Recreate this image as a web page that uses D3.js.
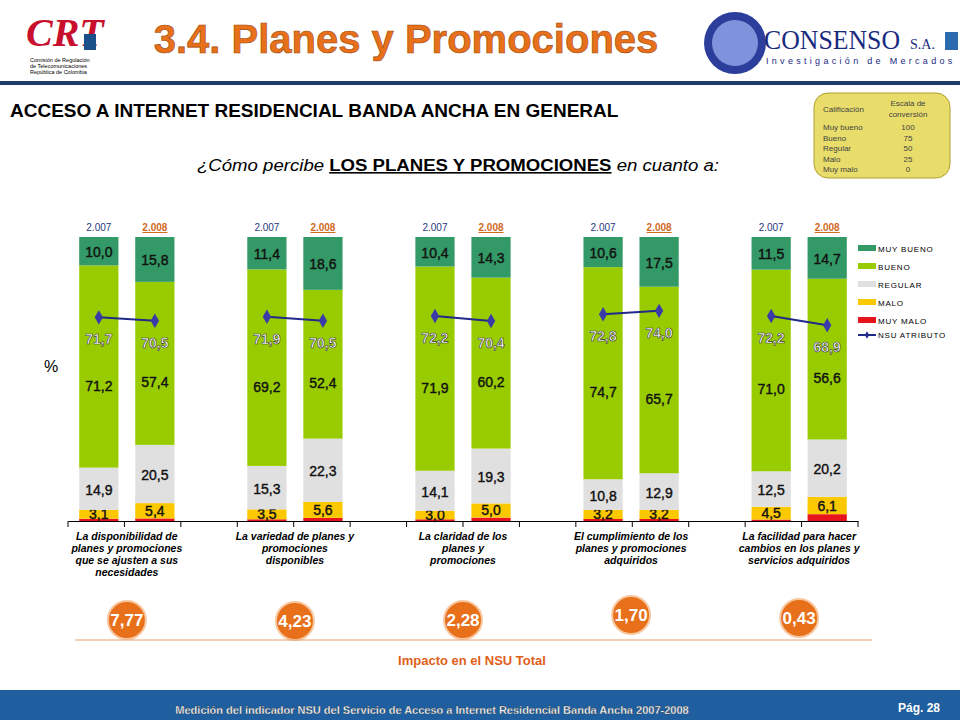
<!DOCTYPE html><html><head><meta charset="utf-8"><script src="https://cdn.jsdelivr.net/npm/d3@7"></script>
<style>body{margin:0;background:#fff}svg{font-family:Arial,"Liberation Sans",sans-serif}</style></head><body><svg id="c" width="960" height="720"></svg><script>
const slots=["a07","a08","g1","b07","b08","g2","c07","c08","g3","d07","d08","g4","e07","e08"];
const barKeys=["a07","a08","b07","b08","c07","c08","d07","d08","e07","e08"];
const muyMalo=[0.8,0.9,0.6,1.1,0.6,1.2,0.7,0.7,0.5,2.4];
const malo=[3.1,5.4,3.5,5.6,3.0,5.0,3.2,3.2,4.5,6.1];
const regular=[14.9,20.5,15.3,22.3,14.1,19.3,10.8,12.9,12.5,20.2];
const bueno=[71.2,57.4,69.2,52.4,71.9,60.2,74.7,65.7,71.0,56.6];
const muyBueno=[10.0,15.8,11.4,18.6,10.4,14.3,10.6,17.5,11.5,14.7];
const nsu=[71.7,70.5,71.9,70.5,72.2,70.4,72.8,74.0,72.2,68.9];
const years=["2.007","2.008"];
const groupLabels=[["La disponibilidad  de","planes y promociones","que se ajusten a sus","necesidades"],["La variedad de planes y","promociones","disponibles"],["La claridad de los","planes y","promociones"],["El cumplimiento de los","planes y promociones","adquiridos"],["La facilidad para hacer","cambios en los planes y","servicios adquiridos"]];
const impacts=["7,77","4,23","2,28","1,70","0,43"];
const scaleRows=[["Muy bueno","100"],["Bueno","75"],["Regular","50"],["Malo","25"],["Muy malo","0"]];
const series=[{n:"MUY MALO",v:muyMalo,c:"#e8141c"},{n:"MALO",v:malo,c:"#fcc800"},{n:"REGULAR",v:regular,c:"#e0e0e0"},{n:"BUENO",v:bueno,c:"#99cc00"},{n:"MUY BUENO",v:muyBueno,c:"#339966"}];
const svg=d3.select("#c");
const x=d3.scaleBand().domain(slots).range([68,858]).paddingInner(0.3).paddingOuter(0.2);
const y=d3.scaleLinear().domain([0,100]).range([521,237]);
const fmt=v=>v.toFixed(1).replace(".",",");
// header
svg.append("text").attr("x",26).attr("y",46).attr("font-size",40).attr("font-weight","bold").attr("font-style","italic").attr("fill","#c8102e").attr("font-family","Liberation Serif,serif").text("CRT");
svg.append("rect").attr("x",84).attr("y",34).attr("width",12).attr("height",16).attr("fill","#1a4f8a");
["Comisión de Regulación","de Telecomunicaciones","República de Colombia"].forEach((t,i)=>svg.append("text").attr("x",30).attr("y",62+i*6).attr("font-size",5.5).text(t));
svg.append("text").attr("x",406).attr("y",53).attr("text-anchor","middle").attr("font-size",40).attr("font-weight","bold").attr("fill","#e8701a").attr("stroke","#9a4a10").attr("stroke-width",0.6).text("3.4. Planes y Promociones");
svg.append("circle").attr("cx",735).attr("cy",43).attr("r",31).attr("fill","#2c3e9c");
svg.append("circle").attr("cx",735).attr("cy",43).attr("r",23).attr("fill","#7f93dd");
svg.append("text").attr("x",764).attr("y",49).attr("font-size",27).attr("textLength",136).attr("lengthAdjust","spacingAndGlyphs").attr("fill","#1a2a80").attr("font-family","Liberation Serif,serif").text("CONSENSO");
svg.append("text").attr("x",910).attr("y",49).attr("font-size",14).attr("fill","#1a2a80").attr("font-family","Liberation Serif,serif").text("S.A.");
svg.append("text").attr("x",766).attr("y",64).attr("font-size",9).attr("letter-spacing",3.3).attr("fill","#1a2a80").text("Investigación de Mercados");
svg.append("rect").attr("x",945).attr("y",32).attr("width",13).attr("height",18).attr("fill","#2c6cae");
svg.append("rect").attr("x",0).attr("y",81).attr("width",960).attr("height",4).attr("fill","#1f3a6b");
svg.append("text").attr("x",10).attr("y",117).attr("font-size",19).attr("font-weight","bold").text("ACCESO A INTERNET RESIDENCIAL BANDA ANCHA EN GENERAL");
const sub=svg.append("text").attr("x",458).attr("y",171).attr("text-anchor","middle").attr("font-size",16).attr("font-style","italic").attr("textLength",522).attr("lengthAdjust","spacingAndGlyphs");
sub.append("tspan").text("¿Cómo percibe ");sub.append("tspan").attr("font-weight","bold").attr("font-style","normal").attr("text-decoration","underline").text("LOS PLANES Y PROMOCIONES");sub.append("tspan").text(" en cuanto a:");
// scale box
svg.append("rect").attr("x",814).attr("y",93).attr("width",136).attr("height",85).attr("rx",14).attr("fill","#e8dc6a").attr("stroke","#b0a030");
svg.append("text").attr("x",823).attr("y",112).attr("font-size",8).attr("fill","#444").text("Calificación");
svg.append("text").attr("x",908).attr("y",106).attr("text-anchor","middle").attr("font-size",8).attr("fill","#444").text("Escala de");
svg.append("text").attr("x",908).attr("y",117).attr("text-anchor","middle").attr("font-size",8).attr("fill","#444").text("conversión");
scaleRows.forEach((r,i)=>{svg.append("text").attr("x",823).attr("y",130+i*10.5).attr("font-size",8).attr("fill","#444").text(r[0]);svg.append("text").attr("x",908).attr("y",130+i*10.5).attr("text-anchor","middle").attr("font-size",8).attr("fill","#444").text(r[1]);});
// bars
const bw=x.bandwidth();
barKeys.forEach((k,i)=>{
  let acc=0;
  series.forEach(s=>{
    const v=s.v[i];
    svg.append("rect").attr("x",x(k)).attr("width",bw).attr("y",y(acc+v)).attr("height",y(acc)-y(acc+v)).attr("fill",s.c);
    if(s.n!=="MUY MALO"){
      const cy=s.n==="BUENO"?y(acc+v*0.5)+24:(s.n==="MALO"?y(acc+v/2)+5:y(acc+v/2)+6);
      svg.append("text").attr("x",x(k)+bw/2).attr("y",cy).attr("text-anchor","middle").attr("font-size",14).attr("fill","#111").attr("stroke","#111").attr("stroke-width",0.4).text(fmt(v));
    }
    acc+=v;
  });
  svg.append("text").attr("x",x(k)+bw/2).attr("y",y(100)-6).attr("text-anchor","middle").attr("font-size",10).attr("font-weight",i%2?"bold":"normal").attr("fill",i%2?"#d2691e":"#1f3a80").attr("text-decoration",i%2?"underline":"none").text(years[i%2]);
});
// NSU lines
for(let g=0;g<5;g++){
  const pts=[0,1].map(j=>[x(barKeys[g*2+j])+bw/2,y(nsu[g*2+j])]);
  svg.append("path").attr("d",d3.line()(pts)).attr("stroke","#1f2a8a").attr("stroke-width",2).attr("fill","none");
  pts.forEach((p,j)=>{
    svg.append("path").attr("d",d3.symbol(d3.symbolDiamond,60)()).attr("transform",`translate(${p[0]},${p[1]})`).attr("fill","#3a3aa8");
    svg.append("text").attr("x",p[0]).attr("y",p[1]+27).attr("text-anchor","middle").attr("font-size",14).attr("fill","#fff").attr("font-weight","bold").attr("stroke","#333").attr("stroke-width",0.6).text(fmt(nsu[g*2+j]));
  });
}
// axis
const ax=svg.append("g").attr("transform","translate(0,521)").call(d3.axisBottom(x).tickFormat("").tickSizeOuter(0).tickSize(0));
ax.select(".domain").attr("stroke","#000");
const tk=d3.range(15).map(i=>68+i*(790/14));
tk.forEach(t=>svg.append("line").attr("x1",t).attr("x2",t).attr("y1",521).attr("y2",527).attr("stroke","#000"));
svg.append("text").attr("x",44).attr("y",372).attr("font-size",16).text("%");
groupLabels.forEach((ls,g)=>{
  const cx=(x(barKeys[g*2])+x(barKeys[g*2+1])+bw)/2;
  ls.forEach((l,i)=>svg.append("text").attr("x",cx).attr("y",540+i*12).attr("text-anchor","middle").attr("font-size",10.5).attr("font-weight","bold").attr("font-style","italic").text(l));
  const cyo=[620,621,620,615,618][g];
  svg.append("circle").attr("cx",cx).attr("cy",cyo).attr("r",19).attr("fill","#e8701a").attr("stroke","#f8c8a0").attr("stroke-width",2);
  svg.append("text").attr("x",cx).attr("y",cyo+6).attr("text-anchor","middle").attr("font-size",17).attr("font-weight","bold").attr("fill","#fff").text(impacts[g]);
});
svg.append("line").attr("x1",75).attr("x2",872).attr("y1",640).attr("y2",640).attr("stroke","#e8a070");
svg.append("text").attr("x",472).attr("y",665).attr("text-anchor","middle").attr("font-size",13).attr("font-weight","bold").attr("fill","#e0601a").text("Impacto en el NSU Total");
// legend
const leg=[...series].reverse();
leg.forEach((s,i)=>{svg.append("rect").attr("x",858).attr("y",245+i*18).attr("width",18).attr("height",6).attr("fill",s.c);svg.append("text").attr("x",878).attr("y",252+i*18).attr("font-size",8).attr("letter-spacing",0.8).text(s.n);});
svg.append("line").attr("x1",858).attr("x2",876).attr("y1",335).attr("y2",335).attr("stroke","#1f2a8a").attr("stroke-width",2);
svg.append("path").attr("d",d3.symbol(d3.symbolDiamond,16)()).attr("transform","translate(867,335)").attr("fill","#1f2a8a");
svg.append("text").attr("x",878).attr("y",338).attr("font-size",8).attr("letter-spacing",0.8).text("NSU ATRIBUTO");
// footer
svg.append("rect").attr("x",0).attr("y",690).attr("width",960).attr("height",30).attr("fill","#1f5fa0");
svg.append("text").attr("x",432).attr("y",714).attr("text-anchor","middle").attr("font-size",11).attr("font-weight","bold").attr("fill","#fff").attr("stroke","#333").attr("stroke-width",0.3).text("Medición del  indicador NSU del Servicio de Acceso a Internet Residencial Banda Ancha 2007-2008");
svg.append("text").attr("x",940).attr("y",712).attr("text-anchor","end").attr("font-size",12).attr("font-weight","bold").attr("fill","#fff").text("Pág. 28");
</script></body></html>
